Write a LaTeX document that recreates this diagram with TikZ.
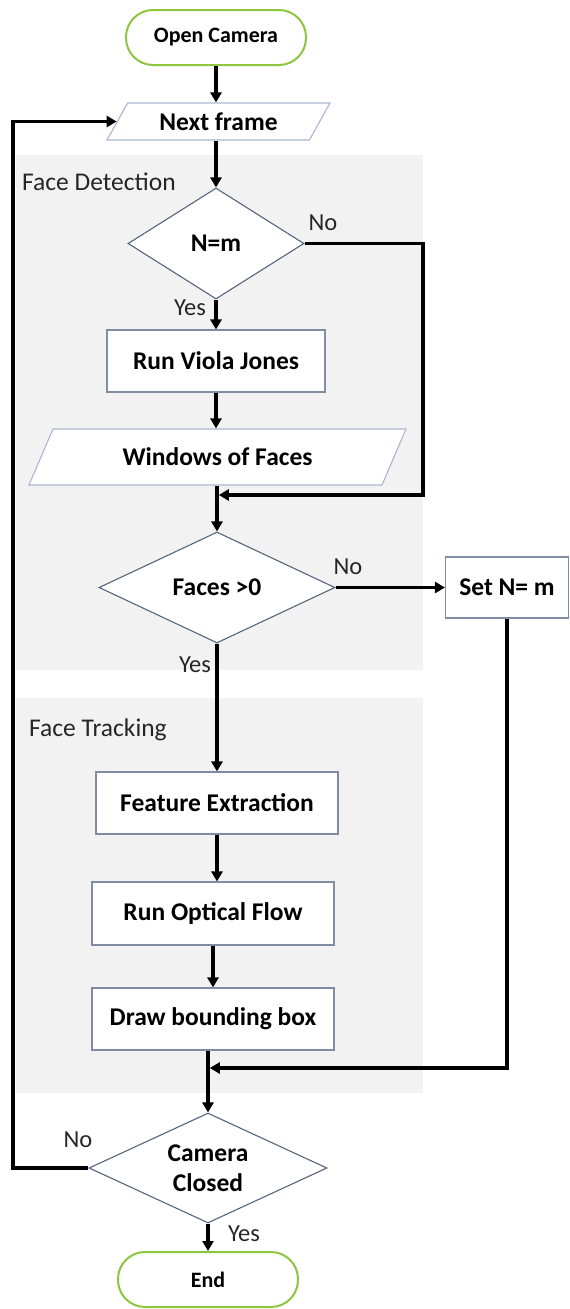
\documentclass[tikz,border=0pt]{standalone}
\usepackage{fontspec}
\setmainfont{Carlito}
\usetikzlibrary{arrows.meta,shapes.geometric}
\definecolor{boxblue}{HTML}{7F8CA3}
\definecolor{decblue}{HTML}{55657F}
\definecolor{iobl}{HTML}{A9B8D0}
\definecolor{termgreen}{HTML}{8CC63F}
\definecolor{bggray}{HTML}{F2F2F2}
\definecolor{lbl}{HTML}{262626}
\begin{document}
\begin{tikzpicture}[x=1pt,y=-1pt,
  base/.style={font=\fontsize{25.5}{30}\selectfont\bfseries, text=black, fill=white, inner sep=0pt},
  proc/.style={base, rectangle, draw=boxblue, line width=1.1pt},
  io/.style={base, trapezium, trapezium stretches body, draw=iobl, line width=1.1pt},
  term/.style={base, font=\fontsize{22}{26}\selectfont\bfseries, rectangle, rounded corners=27pt, draw=termgreen, line width=2pt, minimum width=180pt, minimum height=55pt},
  dec/.style={base, diamond, aspect=2, draw=decblue, line width=1.1pt, align=center},
  flow/.style={line width=3.6pt, -{Triangle[length=10pt,width=11pt]}},
  lab/.style={font=\fontsize{24.5}{29}\selectfont, text=lbl, inner sep=0pt},
  region/.style={font=\fontsize{25.5}{30}\selectfont, text=lbl, inner sep=0pt, anchor=west}
]
\useasboundingbox (0,0) rectangle (570,1309);
\fill[bggray] (16,155) rectangle (423,670);
\fill[bggray] (16,698) rectangle (423,1093);
\node[region] (fdl) at (22,182) {Face Detection};
\node[region] (ftl) at (29,730) {Face Tracking};

\node[term] (oc) at (216,37.5) {Open Camera};
\node[io, trapezium left angle=41, trapezium right angle=139, minimum width=223pt, minimum height=37pt] (nf) at (218.5,121.5) {Next frame};
\node[dec, minimum width=176pt, minimum height=111pt] (nm) at (216,243.5) {N=m};
\node[proc, minimum width=218pt, minimum height=62pt] (rvj) at (216,361) {Run Viola Jones};
\node[io, trapezium left angle=37, trapezium right angle=143, minimum width=377pt, minimum height=56pt] (wof) at (217.5,457) {Windows of Faces};
\node[dec, minimum width=236pt, minimum height=111pt] (fc) at (217,587.5) {Faces >0};
\node[proc, minimum width=123pt, minimum height=61pt] (sn) at (507,587.5) {Set N= m};
\node[proc, minimum width=242pt, minimum height=62pt] (fe) at (217,803) {Feature Extraction};
\node[proc, minimum width=242pt, minimum height=63pt] (rof) at (213,913.5) {Run Optical Flow};
\node[proc, minimum width=242pt, minimum height=62pt] (dbb) at (213,1019) {Draw bounding box};
\node[dec, minimum width=238pt, minimum height=110pt] (cc) at (208,1168) {Camera\\Closed};
\node[term] (end) at (208,1279.5) {End};

\coordinate (m1) at (217,495);
\coordinate (nr) at (423,495);
\coordinate (m2) at (208,1068);
\coordinate (lx) at (13,0);

\draw[flow] (oc.south) -- (oc.south |- nf.north);
\draw[flow] (nm.north |- nf.south) -- (nm.north);
\draw[flow] (nm.south) -- (rvj.north);
\draw[flow] (rvj.south) -- (rvj.south |- wof.north);
\draw[flow] (fc.north |- wof.south) -- (fc.north);
\draw[flow, shorten >=1.8pt] (nm.east) -| (nr) -- (m1);
\draw[flow] (fc.east) -- (sn.west);
\draw[flow] (fc.south) -- (fc.south |- fe.north);
\draw[flow] (fe.south) -- (fe.south |- rof.north);
\draw[flow] (rof.south) -- (dbb.north);
\draw[flow] (cc.north |- dbb.south) -- (cc.north);
\draw[flow, shorten >=1.8pt] (sn.south) |- (m2);
\draw[flow] (cc.west) -- (cc.west -| lx) |- (nf.west);
\draw[flow] (cc.south) -- (end.north);

\node[lab] (no1) at (323,223) {No};
\node[lab] (yes1) at (190,308) {Yes};
\node[lab] (no2) at (348,567) {No};
\node[lab] (yes2) at (195,665) {Yes};
\node[lab] (no3) at (78,1140) {No};
\node[lab] (yes3) at (244,1234) {Yes};
\end{tikzpicture}
\end{document}
